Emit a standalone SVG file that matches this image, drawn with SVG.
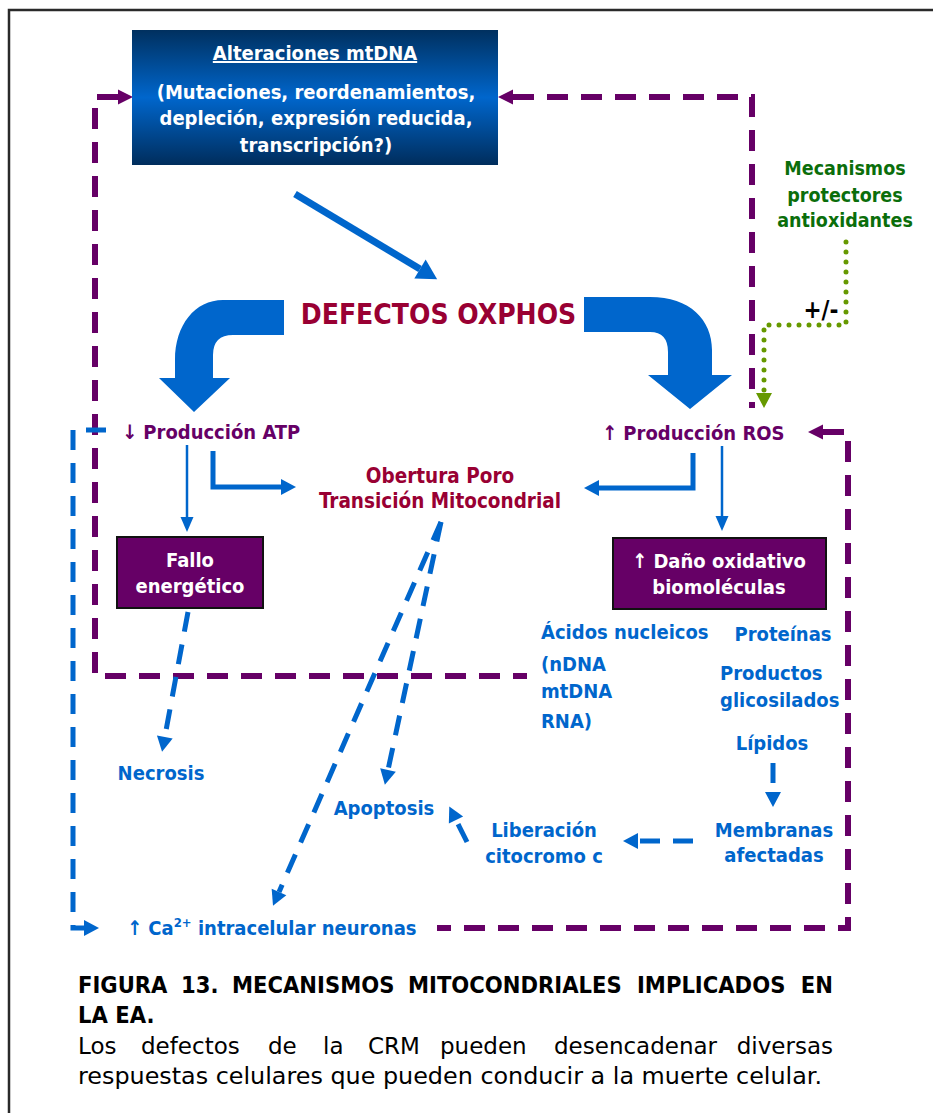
<svg xmlns="http://www.w3.org/2000/svg" width="933" height="1113" viewBox="0 0 933 1113">
  <defs>
    <style>
      .t { font-family: 'DejaVu Sans Condensed', 'DejaVu Sans', sans-serif; font-stretch: condensed; font-weight: bold; }
      .w { fill: #ffffff; }
      .pu { fill: #660066; }
      .bl { fill: #0066cc; }
      .cr { fill: #990033; }
      .gr { fill: #0b6e0b; }
      .c { text-anchor: middle; }
      .capb { font-family: 'DejaVu Sans Condensed', 'DejaVu Sans', sans-serif; font-stretch: condensed; font-weight: bold; fill: #000; font-size: 23.5px; }
      .capr { font-family: 'DejaVu Sans', sans-serif; fill: #000; font-size: 23px; }
      .dp { fill: none; stroke: #660066; stroke-width: 6; stroke-dasharray: 21 13; }
      .db { fill: none; stroke: #0066cc; stroke-width: 5; stroke-dasharray: 20 13; }
      .sb { fill: none; stroke: #0066cc; }
      .box { fill: #660066; stroke: #111; stroke-width: 2; }
    </style>
    <linearGradient id="navy" x1="0" y1="0" x2="0" y2="1">
      <stop offset="0" stop-color="#00305f"/>
      <stop offset="0.5" stop-color="#0066cc"/>
      <stop offset="1" stop-color="#002d5c"/>
    </linearGradient>
    <marker id="mPur" markerUnits="userSpaceOnUse" viewBox="0 0 15 15" refX="0" refY="7.5" markerWidth="15" markerHeight="15" orient="auto-start-reverse" overflow="visible">
      <path d="M0,0 L15,7.5 L0,15 Z" fill="#660066"/>
    </marker>
    <marker id="mBlu" markerUnits="userSpaceOnUse" viewBox="0 0 15 16" refX="0" refY="8" markerWidth="15" markerHeight="16" orient="auto-start-reverse" overflow="visible">
      <path d="M0,0 L15,8 L0,16 Z" fill="#0066cc"/>
    </marker>
    <marker id="mThin" markerUnits="userSpaceOnUse" viewBox="0 0 15 13" refX="0" refY="6.5" markerWidth="15" markerHeight="13" orient="auto" overflow="visible">
      <path d="M0,0 L15,6.5 L0,13 Z" fill="#0066cc"/>
    </marker>
    <marker id="mBig" markerUnits="userSpaceOnUse" viewBox="0 0 20 22" refX="0" refY="11" markerWidth="20" markerHeight="22" orient="auto" overflow="visible">
      <path d="M0,0 L20,11 L0,22 Z" fill="#0066cc"/>
    </marker>
    <marker id="mGrn" markerUnits="userSpaceOnUse" viewBox="0 0 15 16" refX="0" refY="8" markerWidth="15" markerHeight="16" orient="auto" overflow="visible">
      <path d="M0,0 L15,8 L0,16 Z" fill="#669900"/>
    </marker>
  </defs>

  <rect width="933" height="1113" fill="#ffffff"/>
  <!-- page frame -->
  <path d="M9,1113 V10 H933" fill="none" stroke="#2a2a2a" stroke-width="2.5"/>

  <!-- connectors -->
  <g id="connectors">
    <!-- feedback loops (purple dashed) -->
    <path class="dp" d="M118,97 H95 V676 H527" marker-start="url(#mPur)"/>
    <path class="dp" d="M513,97 H752 V408" marker-start="url(#mPur)"/>
    <path class="dp" d="M823,432 H848 V928 H437" marker-start="url(#mPur)"/>
    <!-- ATP to calcium loop (blue dashed) -->
    <path class="db" d="M106,430 H73 V928 H84" marker-end="url(#mBlu)"/>
    <!-- antioxidant modulation (green dotted) -->
    <path d="M846,242 V325 H764 V393" fill="none" stroke="#669900" stroke-width="5" stroke-linecap="round" stroke-dasharray="0 10" marker-end="url(#mGrn)"/>
    <!-- mtDNA to OXPHOS -->
    <path class="sb" d="M295,194 L420,269" stroke-width="7" marker-end="url(#mBig)"/>
    <!-- big curved arrows -->
    <path d="M284,300 L223,300 C195,300 175,325 175,360 L175,378 L159,378 L194,412 L230,378 L213,378 L213,355 Q213,335 233,335 L284,335 Z" fill="#0066cc"/>
    <path d="M584,297 L650,297 C690,297 712,320 712,350 L712,375 L732,375 L690,409 L648,375 L668,375 L668,352 Q668,332 650,332 L584,332 Z" fill="#0066cc"/>
    <!-- solid thin arrows -->
    <path class="sb" d="M187,445 V517" stroke-width="2.5" marker-end="url(#mThin)"/>
    <path class="sb" d="M722,446 V516" stroke-width="2.5" marker-end="url(#mThin)"/>
    <path class="sb" d="M213,451 V487 H281" stroke-width="5" marker-end="url(#mBlu)"/>
    <path class="sb" d="M693,453 V488 H599" stroke-width="5" marker-end="url(#mBlu)"/>
    <!-- dashed outcome arrows -->
    <path class="db" d="M188,612 L164.8,737" marker-end="url(#mBlu)"/>
    <path class="db" d="M441,522 L388,770" marker-end="url(#mBlu)"/>
    <path class="db" d="M441,522 L279,892" marker-end="url(#mBlu)"/>
    <path class="db" d="M467,842 L456,820" marker-end="url(#mBlu)"/>
    <path class="db" d="M773,763 V792" marker-end="url(#mBlu)"/>
    <path class="db" d="M693,841 H638" marker-end="url(#mBlu)"/>
  </g>

  <!-- mtDNA alterations -->
  <g id="mtdna">
    <rect x="132" y="30" width="366" height="135" fill="url(#navy)"/>
    <text class="t w c" x="315" y="60" font-size="20" text-decoration="underline">Alteraciones mtDNA</text>
    <text class="t w c" x="316" y="99" font-size="20">(Mutaciones, reordenamientos,</text>
    <text class="t w c" x="316" y="125" font-size="20">depleción, expresión reducida,</text>
    <text class="t w c" x="316" y="152" font-size="20">transcripción?)</text>
  </g>

  <g id="oxphos">
    <text class="t cr c" x="438.5" y="324" font-size="28">DEFECTOS OXPHOS</text>
  </g>

  <g id="antioxidantes">
    <text class="t gr c" x="845" y="175" font-size="19.5">Mecanismos</text>
    <text class="t gr c" x="845" y="202" font-size="19.5">protectores</text>
    <text class="t gr c" x="845" y="227" font-size="19.5">antioxidantes</text>
    <text class="t c" x="821" y="318" font-size="24" fill="#000">+/-</text>
  </g>

  <g id="atp">
    <text class="t pu" x="122" y="439" font-size="20">↓ Producción ATP</text>
  </g>

  <g id="ros">
    <text class="t pu" x="602" y="440" font-size="20">↑ Producción ROS</text>
  </g>

  <g id="poro">
    <text class="t cr c" x="440" y="483" font-size="20.5">Obertura Poro</text>
    <text class="t cr c" x="440" y="508" font-size="20.5">Transición Mitocondrial</text>
  </g>

  <g id="fallo">
    <rect class="box" x="117" y="537" width="146" height="71"/>
    <text class="t w c" x="190" y="567" font-size="20">Fallo</text>
    <text class="t w c" x="190" y="593" font-size="20">energético</text>
  </g>

  <g id="dano">
    <rect class="box" x="613" y="538" width="213" height="71"/>
    <text class="t w c" x="719" y="568" font-size="20">↑ Daño oxidativo</text>
    <text class="t w c" x="719" y="594" font-size="20">biomoléculas</text>
  </g>

  <g id="acidos">
    <text class="t bl" x="541" y="639" font-size="20">Ácidos nucleicos</text>
    <text class="t bl" x="541" y="671" font-size="20">(nDNA</text>
    <text class="t bl" x="541" y="698" font-size="20">mtDNA</text>
    <text class="t bl" x="541" y="728" font-size="20">RNA)</text>
  </g>

  <g id="proteinas">
    <text class="t bl c" x="783" y="641" font-size="20">Proteínas</text>
  </g>

  <g id="glicosilados">
    <text class="t bl" x="720" y="680" font-size="20">Productos</text>
    <text class="t bl" x="720" y="707" font-size="20">glicosilados</text>
  </g>

  <g id="lipidos">
    <text class="t bl c" x="772" y="750" font-size="20">Lípidos</text>
  </g>

  <g id="membranas">
    <text class="t bl c" x="774" y="837" font-size="20">Membranas</text>
    <text class="t bl c" x="774" y="862" font-size="20">afectadas</text>
  </g>

  <g id="citocromo">
    <text class="t bl c" x="544" y="837" font-size="20">Liberación</text>
    <text class="t bl c" x="544" y="863" font-size="20">citocromo c</text>
  </g>

  <g id="apoptosis">
    <text class="t bl c" x="384" y="815" font-size="20">Apoptosis</text>
  </g>

  <g id="necrosis">
    <text class="t bl c" x="161" y="780" font-size="20">Necrosis</text>
  </g>

  <g id="calcio">
    <text class="t bl" x="127" y="935" font-size="20">↑ Ca<tspan font-size="13" dy="-8">2+</tspan><tspan dy="8"> intracelular neuronas</tspan></text>
  </g>

  <!-- caption (justified lines set word by word) -->
  <g id="caption">
    <text class="capb" y="993"><tspan x="78">FIGURA</tspan><tspan x="181">13.</tspan><tspan x="232">MECANISMOS</tspan><tspan x="408">MITOCONDRIALES</tspan><tspan x="637">IMPLICADOS</tspan><tspan x="833" text-anchor="end">EN</tspan></text>
    <text class="capb" x="78" y="1023">LA EA.</text>
    <text class="capr" y="1054"><tspan x="78">Los</tspan><tspan x="141">defectos</tspan><tspan x="268">de</tspan><tspan x="323">la</tspan><tspan x="368">CRM</tspan><tspan x="440">pueden</tspan><tspan x="554">desencadenar</tspan><tspan x="833" text-anchor="end">diversas</tspan></text>
    <text class="capr" x="78" y="1084" textLength="744" lengthAdjust="spacingAndGlyphs">respuestas celulares que pueden conducir a la muerte celular.</text>
  </g>
</svg>
